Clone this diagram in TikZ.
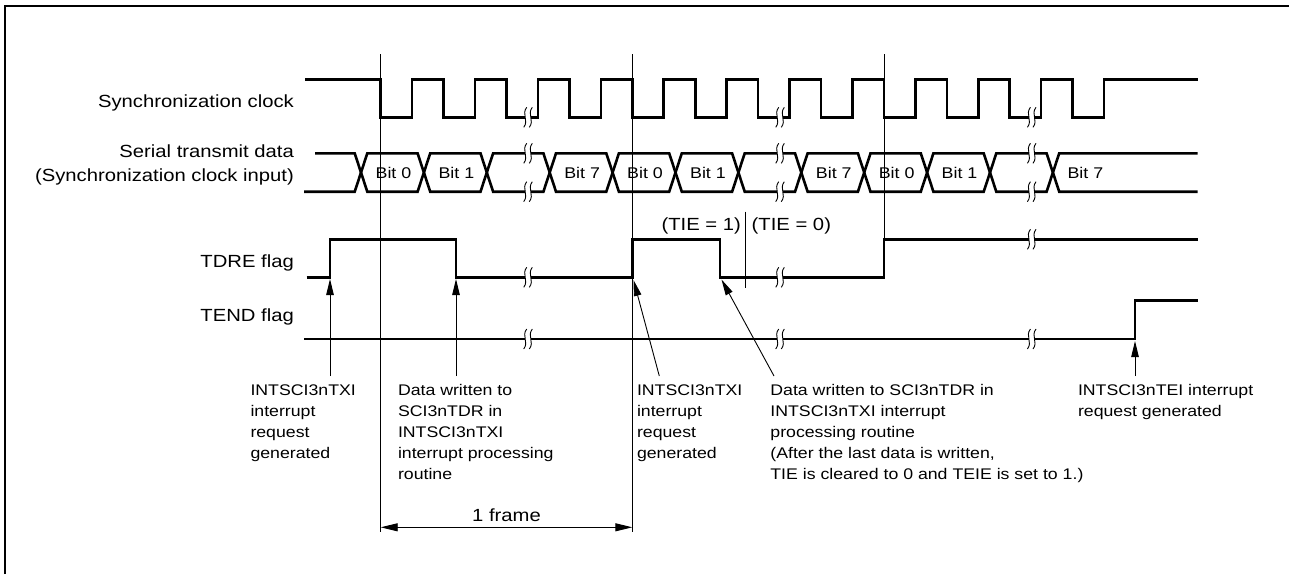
\documentclass[tikz,border=0pt]{standalone}
\usepackage{fontspec}
\setmainfont{Liberation Sans}[FakeStretch=1.15]
\usetikzlibrary{positioning, arrows.meta, calc}

% wavy break mark across a signal line
\newcommand{\sigbreak}[2]{%
  \fill[white] ({#1-2.8},{#2-2}) rectangle ({#1+2.8},{#2+2});
  \foreach \c in {-2.8,2.8}
    \draw[breakmark] ({#1+\c+1.5},{#2-10}) .. controls ({#1+\c-4},{#2-3}) and ({#1+\c+4},{#2+3}) .. ({#1+\c-1.5},{#2+10});
}

\begin{document}
\begin{tikzpicture}[
    x=1pt, y=-1pt,
    sig/.style={line width=2.6pt},
    guide/.style={line width=0.9pt},
    breakmark/.style={line width=0.9pt},
    flagarrow/.style={line width=0.9pt, -{Triangle[length=16pt,width=7.5pt]}},
    dimarrow/.style={line width=0.9pt, {Triangle[length=17pt,width=8pt]}-{Triangle[length=17pt,width=8pt]}},
    signame/.style={anchor=base east, align=right, inner sep=0pt, font=\fontsize{17.6}{24}\selectfont},
    bitlbl/.style={inner sep=0pt, font=\fontsize{15.5}{17}\selectfont},
    tielbl/.style={inner sep=0pt, font=\fontsize{17.6}{20}\selectfont},
    framelbl/.style={above, inner sep=5.6pt, font=\fontsize{17.6}{20}\selectfont},
    note/.style={anchor=north west, align=left, inner xsep=0pt, inner ysep=8.5pt, font=\fontsize{15.4}{21}\selectfont}
  ]
  \useasboundingbox (0,0) rectangle (1289,574);
  \draw[line width=1.8pt] (5,574) -- (5,5.8) -- (1289,5.8);

  % signal names
  \node[signame] (clk) at (294,107) {Synchronization clock};
  \node[signame, anchor=east] (txd) at (294,165) {Serial transmit data\\(Synchronization clock input)};
  \node[signame] (tdre) at (294,267.6) {TDRE flag};
  \node[signame] (tend) at (294,321.6) {TEND flag};

  % frame guides
  \draw[guide] (380.7,54) -- (380.7,531.7);
  \draw[guide] (632.3,54) -- (632.3,531.7);
  \draw[guide] (884,54) -- (884,277.3);
  \draw[guide] (745.3,211.7) -- (745.3,288.3);

  % synchronization clock
  \draw[sig] (305,79.3)
    \foreach \k in {0,...,11} { -- ({380.7+62.9*\k},79.3) -- ({380.7+62.9*\k},117.3)
      -- ({412.15+62.9*\k},117.3) -- ({412.15+62.9*\k},79.3) }
    -- (1198,79.3);

  % serial transmit data
  \draw[sig] (315,153.3)
    \foreach \k in {0,...,11} { -- ({361+62.9*\k-6.3},{153.3+38.4*mod(\k,2)})
      -- ({361+62.9*\k+6.3},{191.7-38.4*mod(\k,2)}) }
    -- (1197.7,153.3);
  \draw[sig] (304,191.7)
    \foreach \k in {0,...,11} { -- ({361+62.9*\k-6.3},{191.7-38.4*mod(\k,2)})
      -- ({361+62.9*\k+6.3},{153.3+38.4*mod(\k,2)}) }
    -- (1197.7,191.7);
  \foreach \k/\b in {0/0,1/1,3/7,4/0,5/1,7/7,8/0,9/1,11/7}
    \node[bitlbl] (bit\k) at ({361+62.9*\k+32.45},172.5) {Bit \b};

  % flags
  \draw[sig] (306.7,277.3) -- (330,277.3) -- (330,239.3) -- (456,239.3) -- (456,277.3)
    -- (632.3,277.3) -- (632.3,239.3) -- (720,239.3) -- (720,277.3)
    -- (884,277.3) -- (884,239.3) -- (1198,239.3);
  \draw[sig] (304,339) -- (1135,339) -- (1135,300.7) -- (1198,300.7);

  \node[tielbl, anchor=east] (tie1) at (741,226) {(TIE = 1)};
  \node[tielbl, anchor=west] (tie0) at (751.5,226) {(TIE = 0)};

  % breaks
  \foreach \bx in {528,780,1031.7} {
    \sigbreak{\bx}{117.3}
    \sigbreak{\bx}{153.3}
    \sigbreak{\bx}{191.7}
    \sigbreak{\bx}{339}
  }
  \sigbreak{528}{277.3}
  \sigbreak{780}{277.3}
  \sigbreak{1031.7}{239.3}

  % notes
  \node[note] (txiA) at (250.3,376) {INTSCI3nTXI\\interrupt\\request\\generated};
  \node[note] (wrA) at (397.8,376) {Data written to\\SCI3nTDR in\\INTSCI3nTXI\\interrupt processing\\routine};
  \node[note] (txiB) at (636.8,376) {INTSCI3nTXI\\interrupt\\request\\generated};
  \node[note] (wrB) at (770.2,376) {Data written to SCI3nTDR in\\INTSCI3nTXI interrupt\\processing routine\\(After the last data is written,\\TIE is cleared to 0 and TEIE is set to 1.)};
  \node[note] (tei) at (1077.8,376) {INTSCI3nTEI interrupt\\request generated};

  \coordinate (tdreRise1) at (330,279);
  \coordinate (tdreFall1) at (456,279);
  \coordinate (tdreRise2) at (633.5,280);
  \coordinate (tdreFall2) at (721.5,279.5);
  \coordinate (tendRise) at (1135,341);

  \draw[flagarrow] (txiA.north -| tdreRise1) -- (tdreRise1);
  \draw[flagarrow] (wrA.north -| tdreFall1) -- (tdreFall1);
  \draw[flagarrow] ($(txiB.north west)+(22.5,0)$) -- (tdreRise2);
  \draw[flagarrow] ($(wrB.north west)+(3.8,0)$) -- (tdreFall2);
  \draw[flagarrow] (tei.north -| tendRise) -- (tendRise);

  % one frame
  \coordinate (frameL) at (380.7,527.3);
  \coordinate (frameR) at (632.3,527.3);
  \draw[dimarrow] (frameL) -- node[framelbl] (frame) {1 frame} (frameR);
\end{tikzpicture}
\end{document}
